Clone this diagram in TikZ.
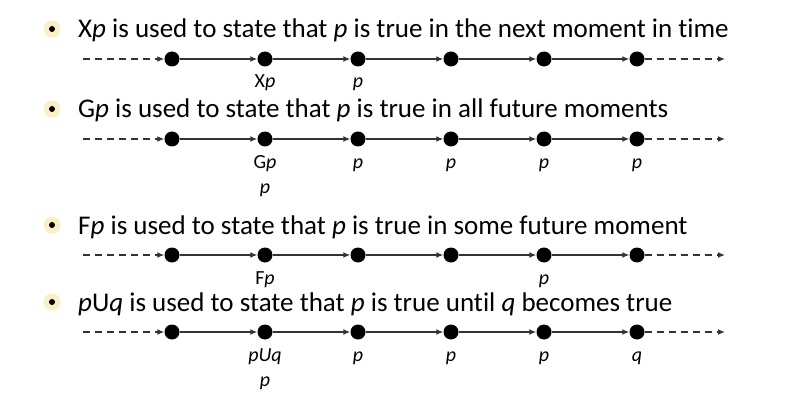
\documentclass[tikz,border=0pt]{standalone}
\usepackage{fontspec}
\setmainfont{Carlito}[Ligatures=NoCommon]
\usepackage{xcolor}
\definecolor{haloYellow}{HTML}{FCEFC6}
\definecolor{lineGray}{gray}{0.2}
\usepackage{tikz}
\usetikzlibrary{arrows.meta}

\tikzset{
  bullet/.style={circle, fill=haloYellow, inner sep=0pt, minimum size=17pt,
    path picture={\fill[black] (path picture bounding box.center) circle (3pt);}},
  heading/.style={anchor=base west, inner sep=0pt, font=\fontsize{27pt}{31pt}\selectfont},
  moment/.style={circle, fill=black, inner sep=0pt, minimum size=15pt},
  stamp/.style={anchor=base, inner sep=0pt, font=\fontsize{20pt}{23pt}\selectfont},
  tick/.style={->, lineGray, line width=1.4pt},
  dashline/.style={->, lineGray, line width=1.4pt, dash pattern=on 7pt off 5pt}
}

\begin{document}
\begin{tikzpicture}[x=1pt, y=1pt, >={Latex[length=7pt,width=6pt]}]
  \useasboundingbox (0,0) rectangle (803,-409);
  % ---- X: next moment ----
  \begin{scope}[yshift=-59pt]
    \node[bullet] (xb) at (52,30) {};
    \node[heading] (xh) at (78,21) {X\textit{p} is used to state that \textit{p} is true in the next moment in time};
    \coordinate (x0) at (83,0);
    \coordinate (x7) at (725,0);
    \foreach \i in {1,...,6}
      \node[moment] (x\i) at ({172+93*(\i-1)},0) {};
    \draw[dashline] (x0) -- (x1);
    \foreach \i/\j in {1/2,2/3,3/4,4/5,5/6}
      \draw[tick] (x\i) -- (x\j);
    \draw[dashline] (x6) -- (x7);
    \node[stamp] (xl2) at (265,-29) {X\textit{p}};
    \node[stamp] (xl3) at (358,-29) {\textit{p}};
  \end{scope}
  % ---- G: all future moments ----
  \begin{scope}[yshift=-139pt]
    \node[bullet] (gb) at (52,30) {};
    \node[heading] (gh) at (78,21) {G\textit{p} is used to state that \textit{p} is true in all future moments};
    \coordinate (g0) at (83,0);
    \coordinate (g7) at (725,0);
    \foreach \i in {1,...,6}
      \node[moment] (g\i) at ({172+93*(\i-1)},0) {};
    \draw[dashline] (g0) -- (g1);
    \foreach \i/\j in {1/2,2/3,3/4,4/5,5/6}
      \draw[tick] (g\i) -- (g\j);
    \draw[dashline] (g6) -- (g7);
    \node[stamp] (gl2) at (265,-29) {G\textit{p}};
    \node[stamp] (gl2b) at (265,-54) {\textit{p}};
    \foreach \i in {3,...,6}
      \node[stamp] (gl\i) at ({172+93*(\i-1)},-29) {\textit{p}};
  \end{scope}
  % ---- F: some future moment ----
  \begin{scope}[yshift=-255pt]
    \node[bullet] (fb) at (52,30) {};
    \node[heading] (fh) at (78,21) {F\textit{p} is used to state that \textit{p} is true in some future moment};
    \coordinate (f0) at (83,0);
    \coordinate (f7) at (725,0);
    \foreach \i in {1,...,6}
      \node[moment] (f\i) at ({172+93*(\i-1)},0) {};
    \draw[dashline] (f0) -- (f1);
    \foreach \i/\j in {1/2,2/3,3/4,4/5,5/6}
      \draw[tick] (f\i) -- (f\j);
    \draw[dashline] (f6) -- (f7);
    \node[stamp] (fl2) at (265,-29) {F\textit{p}};
    \node[stamp] (fl5) at (544,-29) {\textit{p}};
  \end{scope}
  % ---- U: until ----
  \begin{scope}[yshift=-332pt]
    \node[bullet] (ub) at (52,30) {};
    \node[heading] (uh) at (78,21) {\textit{p}U\textit{q} is used to state that \textit{p} is true until \textit{q} becomes true};
    \coordinate (u0) at (83,0);
    \coordinate (u7) at (725,0);
    \foreach \i in {1,...,6}
      \node[moment] (u\i) at ({172+93*(\i-1)},0) {};
    \draw[dashline] (u0) -- (u1);
    \foreach \i/\j in {1/2,2/3,3/4,4/5,5/6}
      \draw[tick] (u\i) -- (u\j);
    \draw[dashline] (u6) -- (u7);
    \node[stamp] (ul2) at (265,-29) {\textit{pUq}};
    \node[stamp] (ul2b) at (265,-54) {\textit{p}};
    \foreach \i in {3,...,5}
      \node[stamp] (ul\i) at ({172+93*(\i-1)},-29) {\textit{p}};
    \node[stamp] (ul6) at (637,-29) {\textit{q}};
  \end{scope}
\end{tikzpicture}
\end{document}
